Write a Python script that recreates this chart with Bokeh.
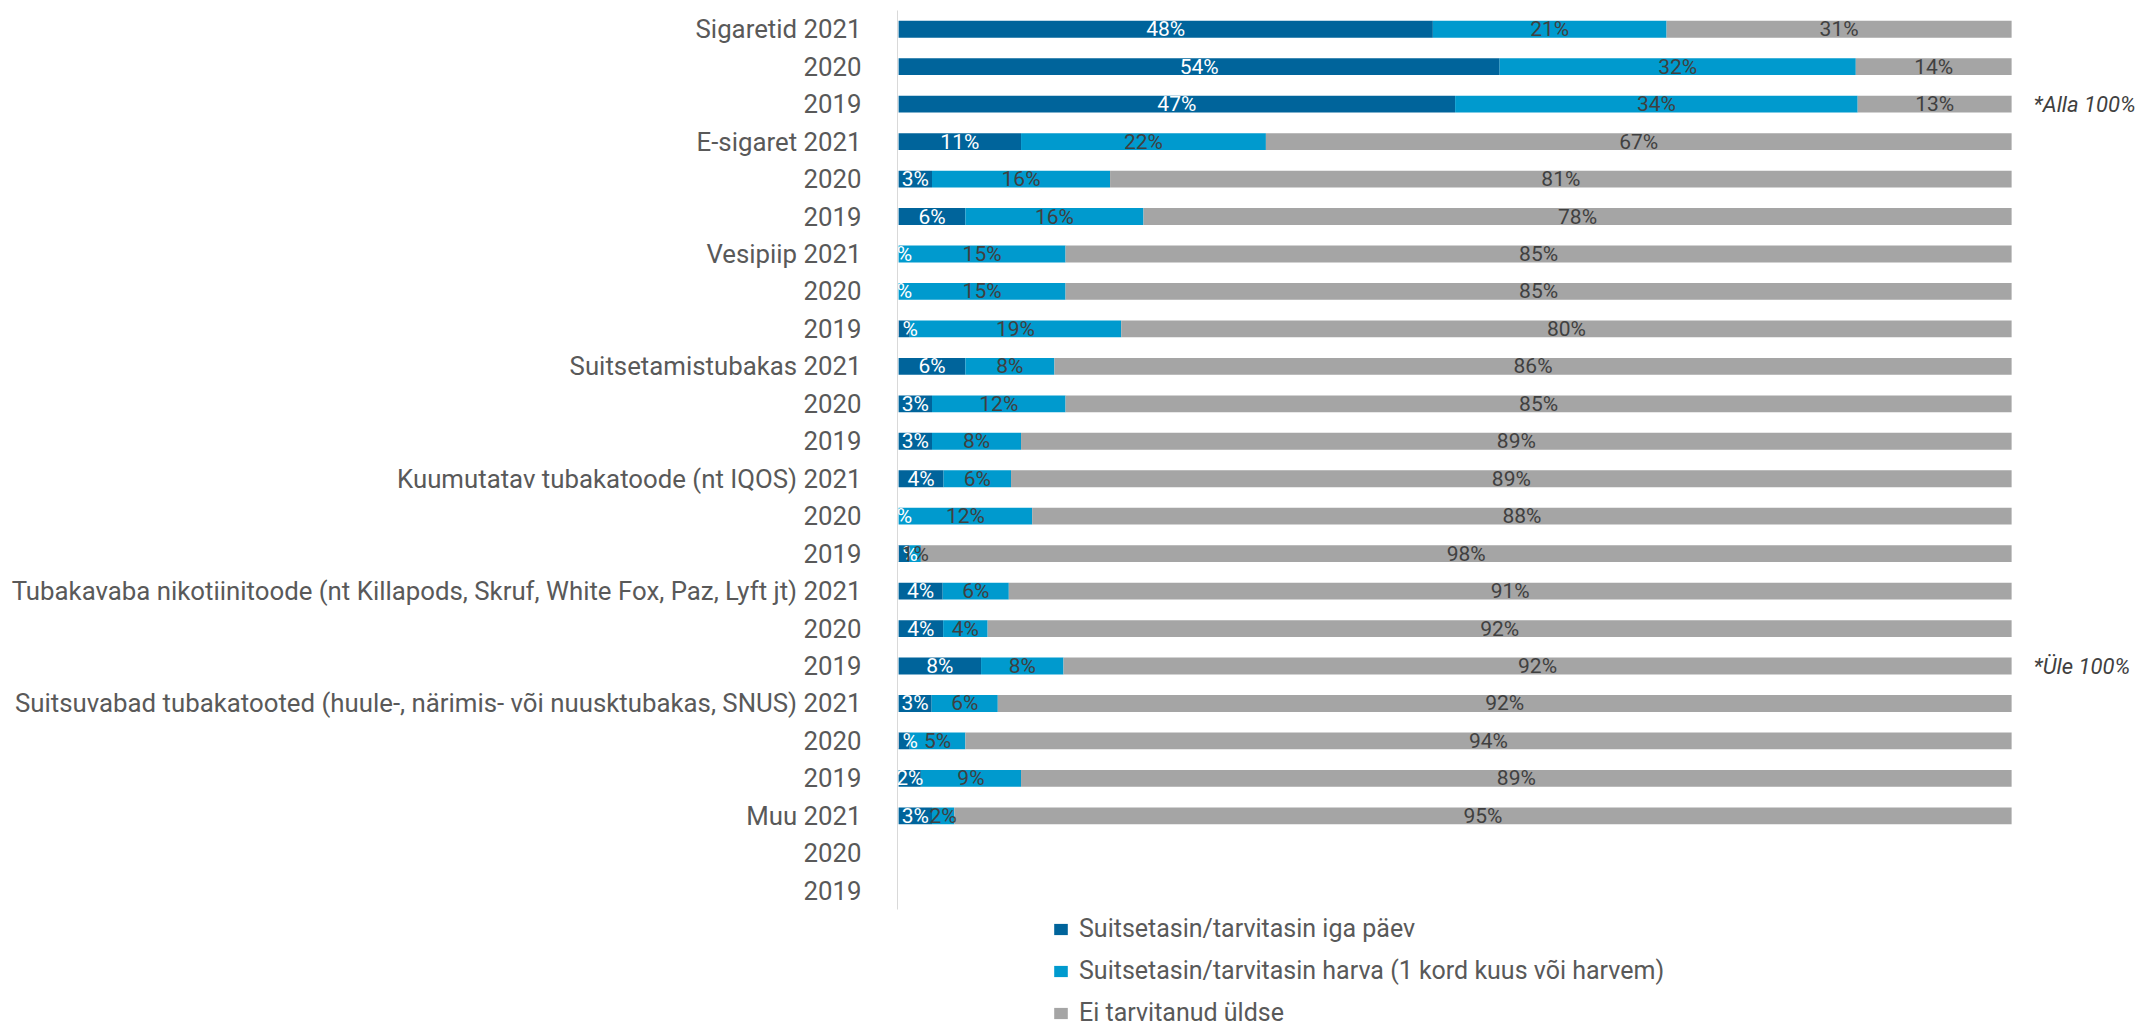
import numpy as np
from bokeh.plotting import figure
from bokeh.models import Range1d, FixedTicker, Legend, LegendItem, ColumnDataSource
from bokeh.embed import file_html
from bokeh.resources import INLINE
from bokeh.core.properties import value

# ---------------- data ----------------
row_labels = [
    "Sigaretid 2021", "2020", "2019",
    "E-sigaret 2021", "2020", "2019",
    "Vesipiip 2021", "2020", "2019",
    "Suitsetamistubakas 2021", "2020", "2019",
    "Kuumutatav tubakatoode (nt IQOS) 2021", "2020", "2019",
    "Tubakavaba nikotiinitoode (nt Killapods, Skruf, White Fox, Paz, Lyft jt) 2021", "2020", "2019",
    "Suitsuvabad tubakatooted (huule-, närimis- või nuusktubakas, SNUS) 2021", "2020", "2019",
    "Muu 2021", "2020", "2019",
]
daily  = [48, 54, 47, 11, 3, 6, 0, 0, 1, 6, 3, 3, 4, 0, 1, 4, 4, 8, 3, 1, 2, 3, None, None]
rarely = [21, 32, 34, 22, 16, 16, 15, 15, 19, 8, 12, 8, 6, 12, 1, 6, 4, 8, 6, 5, 9, 2, None, None]
never  = [31, 14, 13, 67, 81, 78, 85, 85, 80, 86, 85, 89, 89, 88, 98, 91, 92, 92, 92, 94, 89, 95, None, None]
series_names = [
    "Suitsetasin/tarvitasin iga päev",
    "Suitsetasin/tarvitasin harva (1 kord kuus või harvem)",
    "Ei tarvitanud üldse",
]
note_texts = ["*Alla 100%", "*Üle 100%"]
note_rows = [2, 17]

# ---------------- styling / layout ----------------
colors = ["#00649B", "#009ACE", "#A5A5A5"]
label_colors = ["#FFFFFF", "#404040", "#404040"]

W, H = 2144, 1028
FRAME_L, FRAME_T = 897, 10
PX_PER_UNIT = 11.13          # pixels per percent
ROW_PX = 37.458              # pixels per row
x_start = -0.1
x_end = x_start + (W - FRAME_L) / PX_PER_UNIT
y_top = -0.5
y_bottom = y_top + (H - FRAME_T) / ROW_PX

p = figure(width=W, height=H, output_backend="svg", toolbar_location=None,
           x_range=Range1d(x_start, x_end), y_range=Range1d(y_bottom, y_top),
           min_border_left=FRAME_L, min_border_right=0,
           min_border_top=FRAME_T, min_border_bottom=0,
           x_axis_location=None)
p.outline_line_color = None
p.xgrid.visible = False
p.ygrid.visible = False
p.background_fill_color = "white"
p.border_fill_color = "white"

rows = [i for i in range(len(row_labels)) if daily[i] is not None]
vals = np.array([[daily[i], rarely[i], never[i]] for i in rows], dtype=float)
tot = vals.sum(axis=1, keepdims=True)
norm = vals / tot * 100.0
cum = np.cumsum(norm, axis=1)
lefts = cum - norm

sources = []
renderers = []
for k in range(3):
    src = ColumnDataSource(dict(
        y=rows, left=lefts[:, k], right=cum[:, k],
        xc=(lefts[:, k] + cum[:, k]) / 2.0,
        lab=["%d%%" % v for v in vals[:, k]],
    ))
    sources.append(src)
    r = p.hbar(y="y", left="left", right="right", height=0.45, source=src,
               fill_color=colors[k], line_color=None)
    renderers.append(r)

# labels drawn after all bars so that they are not covered
for k in range(3):
    p.text(x="xc", y="y", text="lab", source=sources[k], text_align="center",
           text_baseline="middle", text_font=value("Roboto"),
           text_font_size="21px", text_color=label_colors[k])

note_src = ColumnDataSource(dict(x=[101.97] * len(note_rows), y=note_rows, t=note_texts))
p.text(x="x", y="y", text="t", source=note_src, text_align="left",
       text_baseline="middle", text_font=value("Roboto"), text_font_style="italic",
       text_font_size="22px", text_color="#404040")

ax = p.yaxis[0]
ax.ticker = FixedTicker(ticks=list(range(len(row_labels))))
ax.major_label_overrides = {i: lab for i, lab in enumerate(row_labels)}
ax.bounds = (-0.5, len(row_labels) - 0.5)
ax.axis_line_color = "#D9D9D9"
ax.axis_line_width = 1
ax.major_tick_line_color = None
ax.minor_tick_line_color = None
ax.major_label_standoff = 30
ax.major_label_text_font = "Roboto"
ax.major_label_text_font_size = "25.8px"
ax.major_label_text_color = "#595959"

legend = Legend(items=[LegendItem(label=series_names[k], renderers=[renderers[k]]) for k in range(3)],
                location=(155, 1), orientation="vertical",
                padding=0, margin=0, spacing=13,
                glyph_width=17, glyph_height=14, label_standoff=10,
                label_text_font="Roboto", label_text_font_size="25px",
                label_text_color="#595959", label_height=29,
                border_line_color=None, background_fill_alpha=0)
p.add_layout(legend, "center")

open("out.html", "w").write(file_html(p, INLINE))
